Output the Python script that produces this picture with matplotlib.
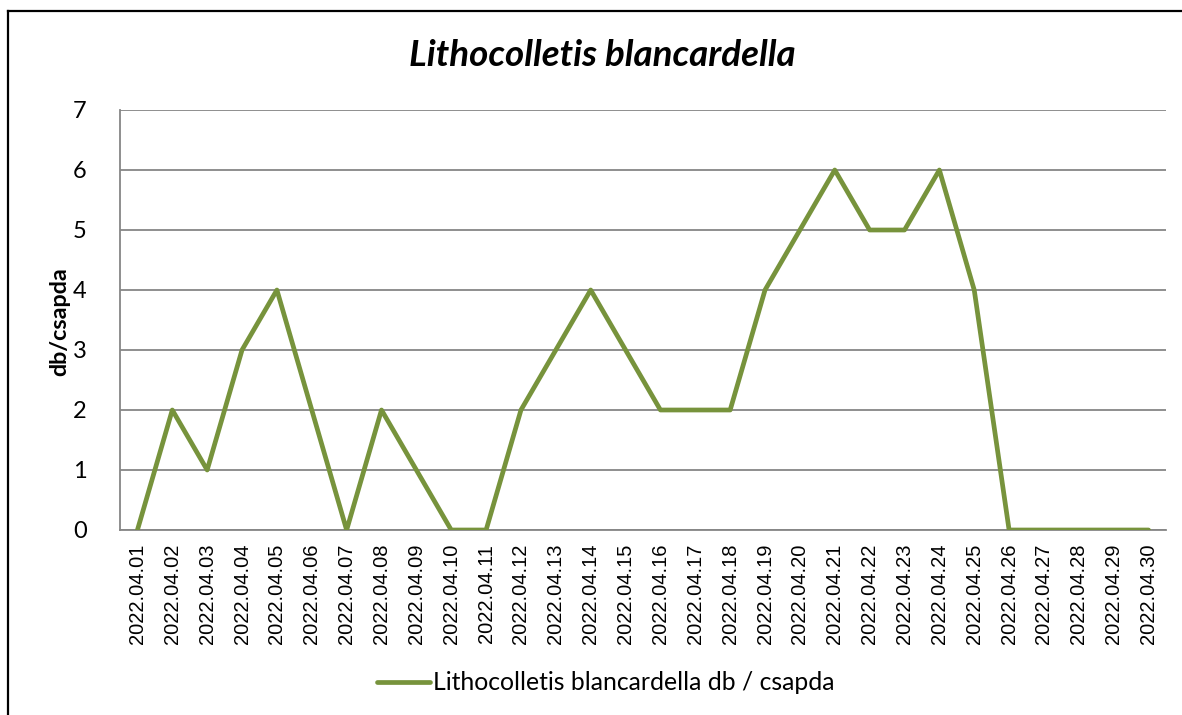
import matplotlib
matplotlib.use("Agg")
import matplotlib.pyplot as plt
from matplotlib.lines import Line2D

dates = ["2022.04.%02d" % d for d in range(1, 31)]
values = [0, 2, 1, 3, 4, 2, 0, 2, 1, 0, 0, 2, 3, 4, 3, 2, 2, 2, 4, 5, 6, 5, 5, 6, 4, 0, 0, 0, 0, 0]
yticks = [0, 1, 2, 3, 4, 5, 6, 7]
title = "Lithocolletis blancardella"
series_name = "Lithocolletis blancardella db / csapda"
ylabel = "db/csapda"

W, H = 1182, 715
fig = plt.figure(figsize=(W / 100, H / 100), dpi=100)
fig.patch.set_facecolor("white")

ax = fig.add_axes([120 / W, (H - 530) / H, 1046 / W, 420 / H])
x = list(range(len(dates)))
line, = ax.plot(x, values, color="#77933C", lw=3.4, solid_joinstyle="round",
                solid_capstyle="round", label=series_name, zorder=3)
ax.set_xlim(-0.5, len(dates) - 0.5)
ax.set_ylim(0, 7)
ax.set_yticks(yticks)
ax.set_yticklabels([str(v) for v in yticks], family="Lato", fontsize=17)
ax.set_xticks(x)
ax.set_xticklabels(dates, rotation=90, family="Liberation Sans", fontsize=14.5)
ax.tick_params(axis="both", length=0)
ax.tick_params(axis="y", pad=24)
ax.tick_params(axis="x", pad=10)
ax.grid(axis="y", color="#868686", lw=1.3, zorder=1)
for s in ["top", "right"]:
    ax.spines[s].set_visible(False)
for s in ["left", "bottom"]:
    ax.spines[s].set_color("#868686")
    ax.spines[s].set_linewidth(1.3)

fig.text(602 / W, 1 - 55 / H, title, ha="center", va="center", family="Lato",
         fontweight="bold", fontstyle="italic", fontsize=26.5)
fig.text(60 / W, 1 - 322 / H, ylabel, ha="center", va="center", rotation=90,
         family="Lato", fontweight="bold", fontsize=16.8)

fig.legend(handles=[line], loc="center", bbox_to_anchor=(606 / W, 1 - 683 / H),
           frameon=False, prop={"family": "Lato", "size": 17.8}, handlelength=2.15,
           handletextpad=0.12)

fig.add_artist(Line2D([8 / W, 8 / W], [0, 1 - 11 / H], color="black", lw=1.6,
                      transform=fig.transFigure))
fig.add_artist(Line2D([8 / W, 1], [1 - 11 / H, 1 - 11 / H], color="black", lw=1.6,
                      transform=fig.transFigure))

fig.savefig("out.png", dpi=100)
